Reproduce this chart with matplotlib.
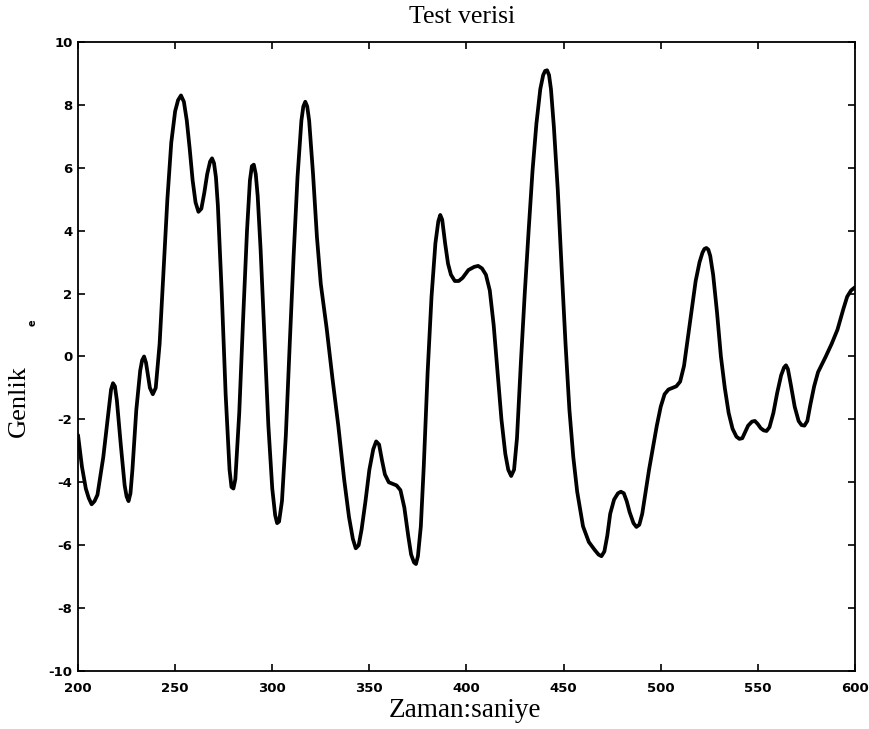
import numpy as np
import matplotlib
matplotlib.use("Agg")
import matplotlib.pyplot as plt

# (zaman, genlik) pairs
egri = [
    (200, -2.5), (202, -3.5), (204, -4.2), (205.5, -4.5), (207, -4.7), (208.5, -4.6),
    (210, -4.4), (213, -3.2), (216, -1.6), (217, -1.05), (218, -0.85), (219, -0.95),
    (220, -1.4), (222, -2.8), (224, -4.1), (225, -4.45), (226, -4.6), (227, -4.35),
    (228, -3.6), (230, -1.7), (232, -0.45), (233, -0.12), (234, 0.0), (235, -0.2),
    (236, -0.6), (237, -1.0), (238.5, -1.2), (240, -1.0), (242, 0.4), (244, 2.7),
    (246, 5.0), (248, 6.8), (250, 7.8), (251.5, 8.15), (253, 8.3), (254.5, 8.1),
    (256, 7.5), (257.5, 6.6), (259, 5.6), (260.5, 4.9), (262, 4.6), (263.5, 4.7),
    (265, 5.2), (266.5, 5.8), (268, 6.2), (269, 6.3), (270, 6.15), (271, 5.7),
    (272, 4.8), (274, 2.0), (276, -1.2), (278, -3.6), (279, -4.15), (280, -4.2),
    (281, -3.9), (283, -1.8), (285, 1.2), (287, 4.0), (288.5, 5.6), (289.5, 6.05),
    (290.5, 6.1), (291.5, 5.8), (292.5, 5.1), (294, 3.4), (296, 0.6), (298, -2.2),
    (300, -4.2), (301.5, -5.05), (302.5, -5.3), (303.5, -5.25), (305, -4.6),
    (307, -2.5), (309, 0.4), (311, 3.2), (313, 5.7), (315, 7.5), (316, 7.95),
    (317, 8.1), (318, 7.95), (319, 7.5), (321, 5.8), (323, 3.8), (325, 2.3),
    (328, 0.9), (331, -0.7), (334, -2.2), (337, -3.9), (339.5, -5.1), (341.5, -5.8),
    (343, -6.1), (344.5, -6.0), (346, -5.5), (348, -4.6), (350, -3.6), (352, -2.95),
    (353.5, -2.7), (355, -2.8), (356.5, -3.3), (358, -3.75), (360, -4.0), (362, -4.05),
    (364, -4.1), (366, -4.25), (368, -4.8), (370, -5.7), (371.5, -6.3), (373, -6.55),
    (374, -6.6), (375, -6.35), (376.5, -5.4), (378, -3.5), (380, -0.5), (382, 1.9),
    (384, 3.6), (385.5, 4.3), (386.5, 4.5), (387.5, 4.35), (389, 3.6), (390.5, 2.95),
    (392, 2.6), (394, 2.4), (396, 2.4), (398, 2.5), (401, 2.75), (404, 2.85),
    (406, 2.88), (408, 2.8), (410, 2.6), (412, 2.1), (414, 1.0), (416, -0.5),
    (418, -2.0), (420, -3.1), (421.5, -3.6), (423, -3.8), (424.5, -3.6), (426, -2.6),
    (428, -0.2), (430, 2.0), (432, 4.0), (434, 5.9), (436, 7.4), (438, 8.5),
    (439.5, 8.95), (440.5, 9.08), (441.5, 9.1), (442.5, 8.95), (443.5, 8.5),
    (445, 7.3), (447, 5.3), (449, 2.8), (451, 0.4), (453, -1.7), (455, -3.2),
    (457, -4.3), (460, -5.4), (463, -5.9), (466, -6.15), (468, -6.3), (469.5, -6.35),
    (471, -6.2), (472.5, -5.7), (474, -5.0), (476, -4.55), (478, -4.35), (479.5, -4.3),
    (481, -4.35), (482.5, -4.6), (484, -4.95), (486, -5.3), (487.5, -5.42),
    (489, -5.35), (490.5, -5.0), (492, -4.4), (494, -3.6), (496, -2.9), (498, -2.2),
    (500, -1.6), (502, -1.2), (504, -1.05), (506, -1.0), (508, -0.95), (510, -0.8),
    (512, -0.3), (514, 0.6), (516, 1.5), (518, 2.4), (520, 3.0), (521.5, 3.3),
    (522.5, 3.42), (523.5, 3.45), (524.5, 3.4), (525.5, 3.2), (527, 2.6), (529, 1.4),
    (531, 0.0), (533, -1.0), (535, -1.8), (537, -2.3), (539, -2.55), (540.5, -2.62),
    (542, -2.6), (543.5, -2.4), (545, -2.2), (547, -2.07), (548.5, -2.05),
    (550, -2.15), (551.5, -2.28), (553, -2.35), (554.5, -2.37), (556, -2.25),
    (558, -1.8), (560, -1.15), (562, -0.6), (563.5, -0.35), (564.5, -0.28),
    (565.5, -0.4), (567, -0.9), (569, -1.6), (571, -2.05), (572.5, -2.18),
    (574, -2.2), (575.5, -2.05), (577, -1.55), (579, -0.95), (581, -0.5),
    (583, -0.25), (585, 0.0), (588, 0.4), (591, 0.85), (594, 1.5), (596, 1.9),
    (598, 2.1), (600, 2.2),
]
zaman = [p[0] for p in egri]
genlik = [p[1] for p in egri]

xticks = [200, 250, 300, 350, 400, 450, 500, 550, 600]
yticks = [-10, -8, -6, -4, -2, 0, 2, 4, 6, 8, 10]
ytick_labels = ['-10', '-8', '-6', '-4', '-2', '0', '2', '4', '6', '8', '10']

fig = plt.figure(figsize=(8.69, 7.29), dpi=100)
ax = fig.add_axes([0.0898, 0.0796, 0.894, 0.8628])

ax.plot(zaman, genlik, color='black', lw=2.7, solid_joinstyle='round',
        solid_capstyle='round')

ax.set_xlim(200, 600)
ax.set_ylim(-10, 10)
ax.set_xticks(xticks)
ax.set_xticklabels([str(t) for t in xticks])
ax.set_yticks(yticks)
ax.set_yticklabels(ytick_labels)
ax.tick_params(direction='in', top=True, right=True, length=5, width=1.2,
               labelsize=9.5)
ax.tick_params(axis='x', pad=8)
ax.tick_params(axis='y', pad=4)
for lab in ax.get_xticklabels() + ax.get_yticklabels():
    lab.set_family('DejaVu Sans')
    lab.set_fontweight('bold')
for s in ax.spines.values():
    s.set_linewidth(1.3)

serif = 'Liberation Serif'
fig.text(0.532, 0.977, 'Test verisi', ha='center', va='center',
         family=serif, fontsize=18.5)
fig.text(0.535, 0.026, 'Zaman:saniye', ha='center', va='center',
         family=serif, fontsize=19.5)
fig.text(0.022, 0.45, 'Genlik', ha='center', va='center', rotation=90,
         family=serif, fontsize=19)
fig.text(0.037, 0.558, 'e', ha='center', va='center', rotation=90,
         family='DejaVu Sans', fontweight='bold', fontsize=7)

fig.savefig('out.png', dpi=100)
